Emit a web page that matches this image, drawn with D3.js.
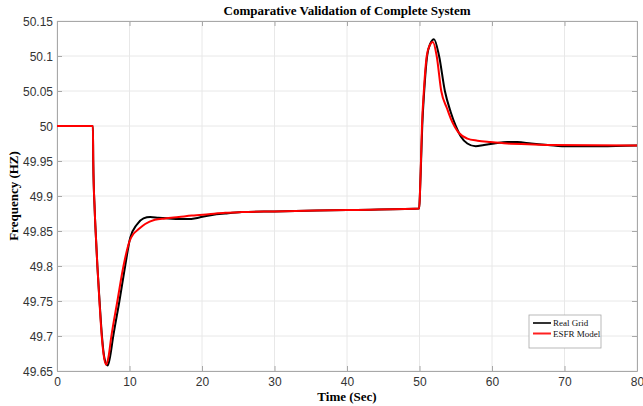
<!DOCTYPE html>
<html><head><meta charset="utf-8">
<script src="https://cdn.jsdelivr.net/npm/d3@7"></script>
<style>body{margin:0;background:#fff;} svg{display:block;}</style>
</head><body>
<svg id="chart" width="643" height="406"></svg>
<script>
// Data (time in seconds, frequency in Hz)
const timeReal = [0, 4.95, 5.0, 5.2, 5.39, 5.57, 5.87, 6.2, 6.55, 7.0, 7.35, 7.73, 8.61, 9.4, 10.09, 11.0, 11.93, 12.85, 14.0, 15.4, 16.8, 18.1, 19.5, 21.4, 23.2, 25.5, 30, 40, 49.95, 50.05, 50.22, 50.38, 50.65, 51.05, 51.5, 52.0, 52.7, 53.5, 54.3, 55.0, 55.7, 56.6, 57.75, 58.9, 60.3, 62.1, 63.5, 65.4, 67.7, 70.5, 75, 80];
const freqReal = [50.0, 50.0, 49.95, 49.88, 49.837, 49.8, 49.75, 49.7, 49.668, 49.658, 49.672, 49.698, 49.75, 49.8, 49.84, 49.859, 49.868, 49.87, 49.869, 49.868, 49.867, 49.867, 49.869, 49.873, 49.875, 49.877, 49.878, 49.88, 49.882, 49.9, 49.95, 50.0, 50.05, 50.1, 50.118, 50.124, 50.1, 50.05, 50.02, 50.0, 49.985, 49.975, 49.971, 49.973, 49.975, 49.977, 49.977, 49.975, 49.973, 49.971, 49.971, 49.972];
const timeModel = [0, 4.95, 5.0, 5.2, 5.39, 5.57, 5.85, 6.17, 6.45, 6.77, 7.1, 7.46, 8.33, 9.17, 9.99, 10.55, 11.2, 12.16, 13.5, 14.9, 16.8, 18.6, 20.9, 23.2, 25.5, 30, 40, 49.95, 50.05, 50.2, 50.34, 50.6, 51.0, 51.4, 51.85, 52.37, 53.0, 53.8, 54.3, 55.45, 56.6, 58.0, 59.8, 62.1, 64.9, 68.1, 80];
const freqModel = [50.0, 50.0, 49.95, 49.88, 49.837, 49.8, 49.75, 49.7, 49.672, 49.659, 49.670, 49.697, 49.75, 49.8, 49.835, 49.846, 49.852, 49.86, 49.866, 49.868, 49.87, 49.872, 49.874, 49.876, 49.877, 49.878, 49.88, 49.882, 49.9, 49.95, 50.0, 50.05, 50.1, 50.115, 50.12, 50.1, 50.05, 50.025, 50.011, 49.99, 49.982, 49.979, 49.977, 49.975, 49.974, 49.973, 49.972];
const xTicks = [0, 10, 20, 30, 40, 50, 60, 70, 80];
const yTicks = [49.65, 49.7, 49.75, 49.8, 49.85, 49.9, 49.95, 50, 50.05, 50.1, 50.15];
const seriesNames = ["Real Grid", "ESFR Model"];
const seriesColors = ["#000000", "#ff0000"];

const svg = d3.select("#chart");
const m = {left: 57, right: 6, top: 21, bottom: 35};
const W = 643, H = 406;
const x = d3.scaleLinear().domain([0, 80]).range([m.left, W - m.right]);
const y = d3.scaleLinear().domain([49.65, 50.15]).range([H - m.bottom, m.top]);

// grid
const g = svg.append("g");
g.selectAll(".vg").data(xTicks).join("line")
  .attr("x1", d => x(d)).attr("x2", d => x(d)).attr("y1", y(49.65)).attr("y2", y(50.15))
  .attr("stroke", "#e8e8e8").attr("stroke-width", 1);
g.selectAll(".hg").data(yTicks).join("line")
  .attr("x1", x(0)).attr("x2", x(80)).attr("y1", d => y(d)).attr("y2", d => y(d))
  .attr("stroke", "#e8e8e8").attr("stroke-width", 1);

// axes
const fmtY = d => d3.format("")(+d.toFixed(2));
const axB = svg.append("g").attr("transform", `translate(0,${y(49.65)})`)
  .call(d3.axisBottom(x).tickValues(xTicks).tickSizeInner(-5).tickSizeOuter(0).tickPadding(6));
const axT = svg.append("g").attr("transform", `translate(0,${y(50.15)})`)
  .call(d3.axisTop(x).tickValues(xTicks).tickSizeInner(-5).tickSizeOuter(0).tickFormat(""));
const axL = svg.append("g").attr("transform", `translate(${x(0)},0)`)
  .call(d3.axisLeft(y).tickValues(yTicks).tickFormat(fmtY).tickSizeInner(-5).tickSizeOuter(0).tickPadding(4));
const axR = svg.append("g").attr("transform", `translate(${x(80)},0)`)
  .call(d3.axisRight(y).tickValues(yTicks).tickSizeInner(-5).tickSizeOuter(0).tickFormat(""));
[axB, axT, axL, axR].forEach(a => {
  a.select(".domain").attr("stroke", "#a8a8a8");
  a.selectAll(".tick line").attr("stroke", "#a8a8a8");
  a.selectAll("text").attr("font-family", "Liberation Sans, Arial, sans-serif").attr("font-size", 12).attr("fill", "#333");
});
axL.selectAll("text").attr("dy", "0.35em");

// lines
const line = d3.line().x(d => x(d[0])).y(d => y(d[1])).curve(d3.curveMonotoneX);
const realData = timeReal.map((t, i) => [t, freqReal[i]]);
const modelData = timeModel.map((t, i) => [t, freqModel[i]]);
svg.append("path").datum(realData).attr("d", line).attr("fill", "none")
  .attr("stroke", seriesColors[0]).attr("stroke-width", 2).attr("stroke-linejoin", "round");
svg.append("path").datum(modelData).attr("d", line).attr("fill", "none")
  .attr("stroke", seriesColors[1]).attr("stroke-width", 2).attr("stroke-linejoin", "round");

// title and labels
svg.append("text").attr("x", (x(0) + x(80)) / 2).attr("y", 15).attr("text-anchor", "middle")
  .attr("font-family", "Liberation Serif, Times New Roman, serif").attr("font-weight", "bold").attr("font-size", 13)
  .text("Comparative Validation of Complete System");
svg.append("text").attr("x", (x(0) + x(80)) / 2).attr("y", 401).attr("text-anchor", "middle")
  .attr("font-family", "Liberation Serif, Times New Roman, serif").attr("font-weight", "bold").attr("font-size", 13)
  .text("Time (Sec)");
svg.append("text").attr("transform", `translate(18,${(y(49.65) + y(50.15)) / 2}) rotate(-90)`).attr("text-anchor", "middle")
  .attr("font-family", "Liberation Serif, Times New Roman, serif").attr("font-weight", "bold").attr("font-size", 13)
  .text("Frequency (HZ)");

// legend
const lg = svg.append("g").attr("transform", "translate(529,315)");
lg.append("rect").attr("width", 72).attr("height", 33).attr("fill", "#fff").attr("stroke", "#a8a8a8").attr("stroke-width", 0.8);
seriesNames.forEach((n, i) => {
  const yy = 8 + i * 10.5;
  lg.append("line").attr("x1", 4).attr("x2", 22).attr("y1", yy).attr("y2", yy)
    .attr("stroke", i === 0 ? "#333" : "#ff2020").attr("stroke-width", 2);
  lg.append("text").attr("x", 24).attr("y", yy).attr("dy", "0.35em")
    .attr("font-family", "Liberation Serif, Times New Roman, serif").attr("font-size", 9).attr("fill", "#111").text(n);
});
</script>
</body></html>
